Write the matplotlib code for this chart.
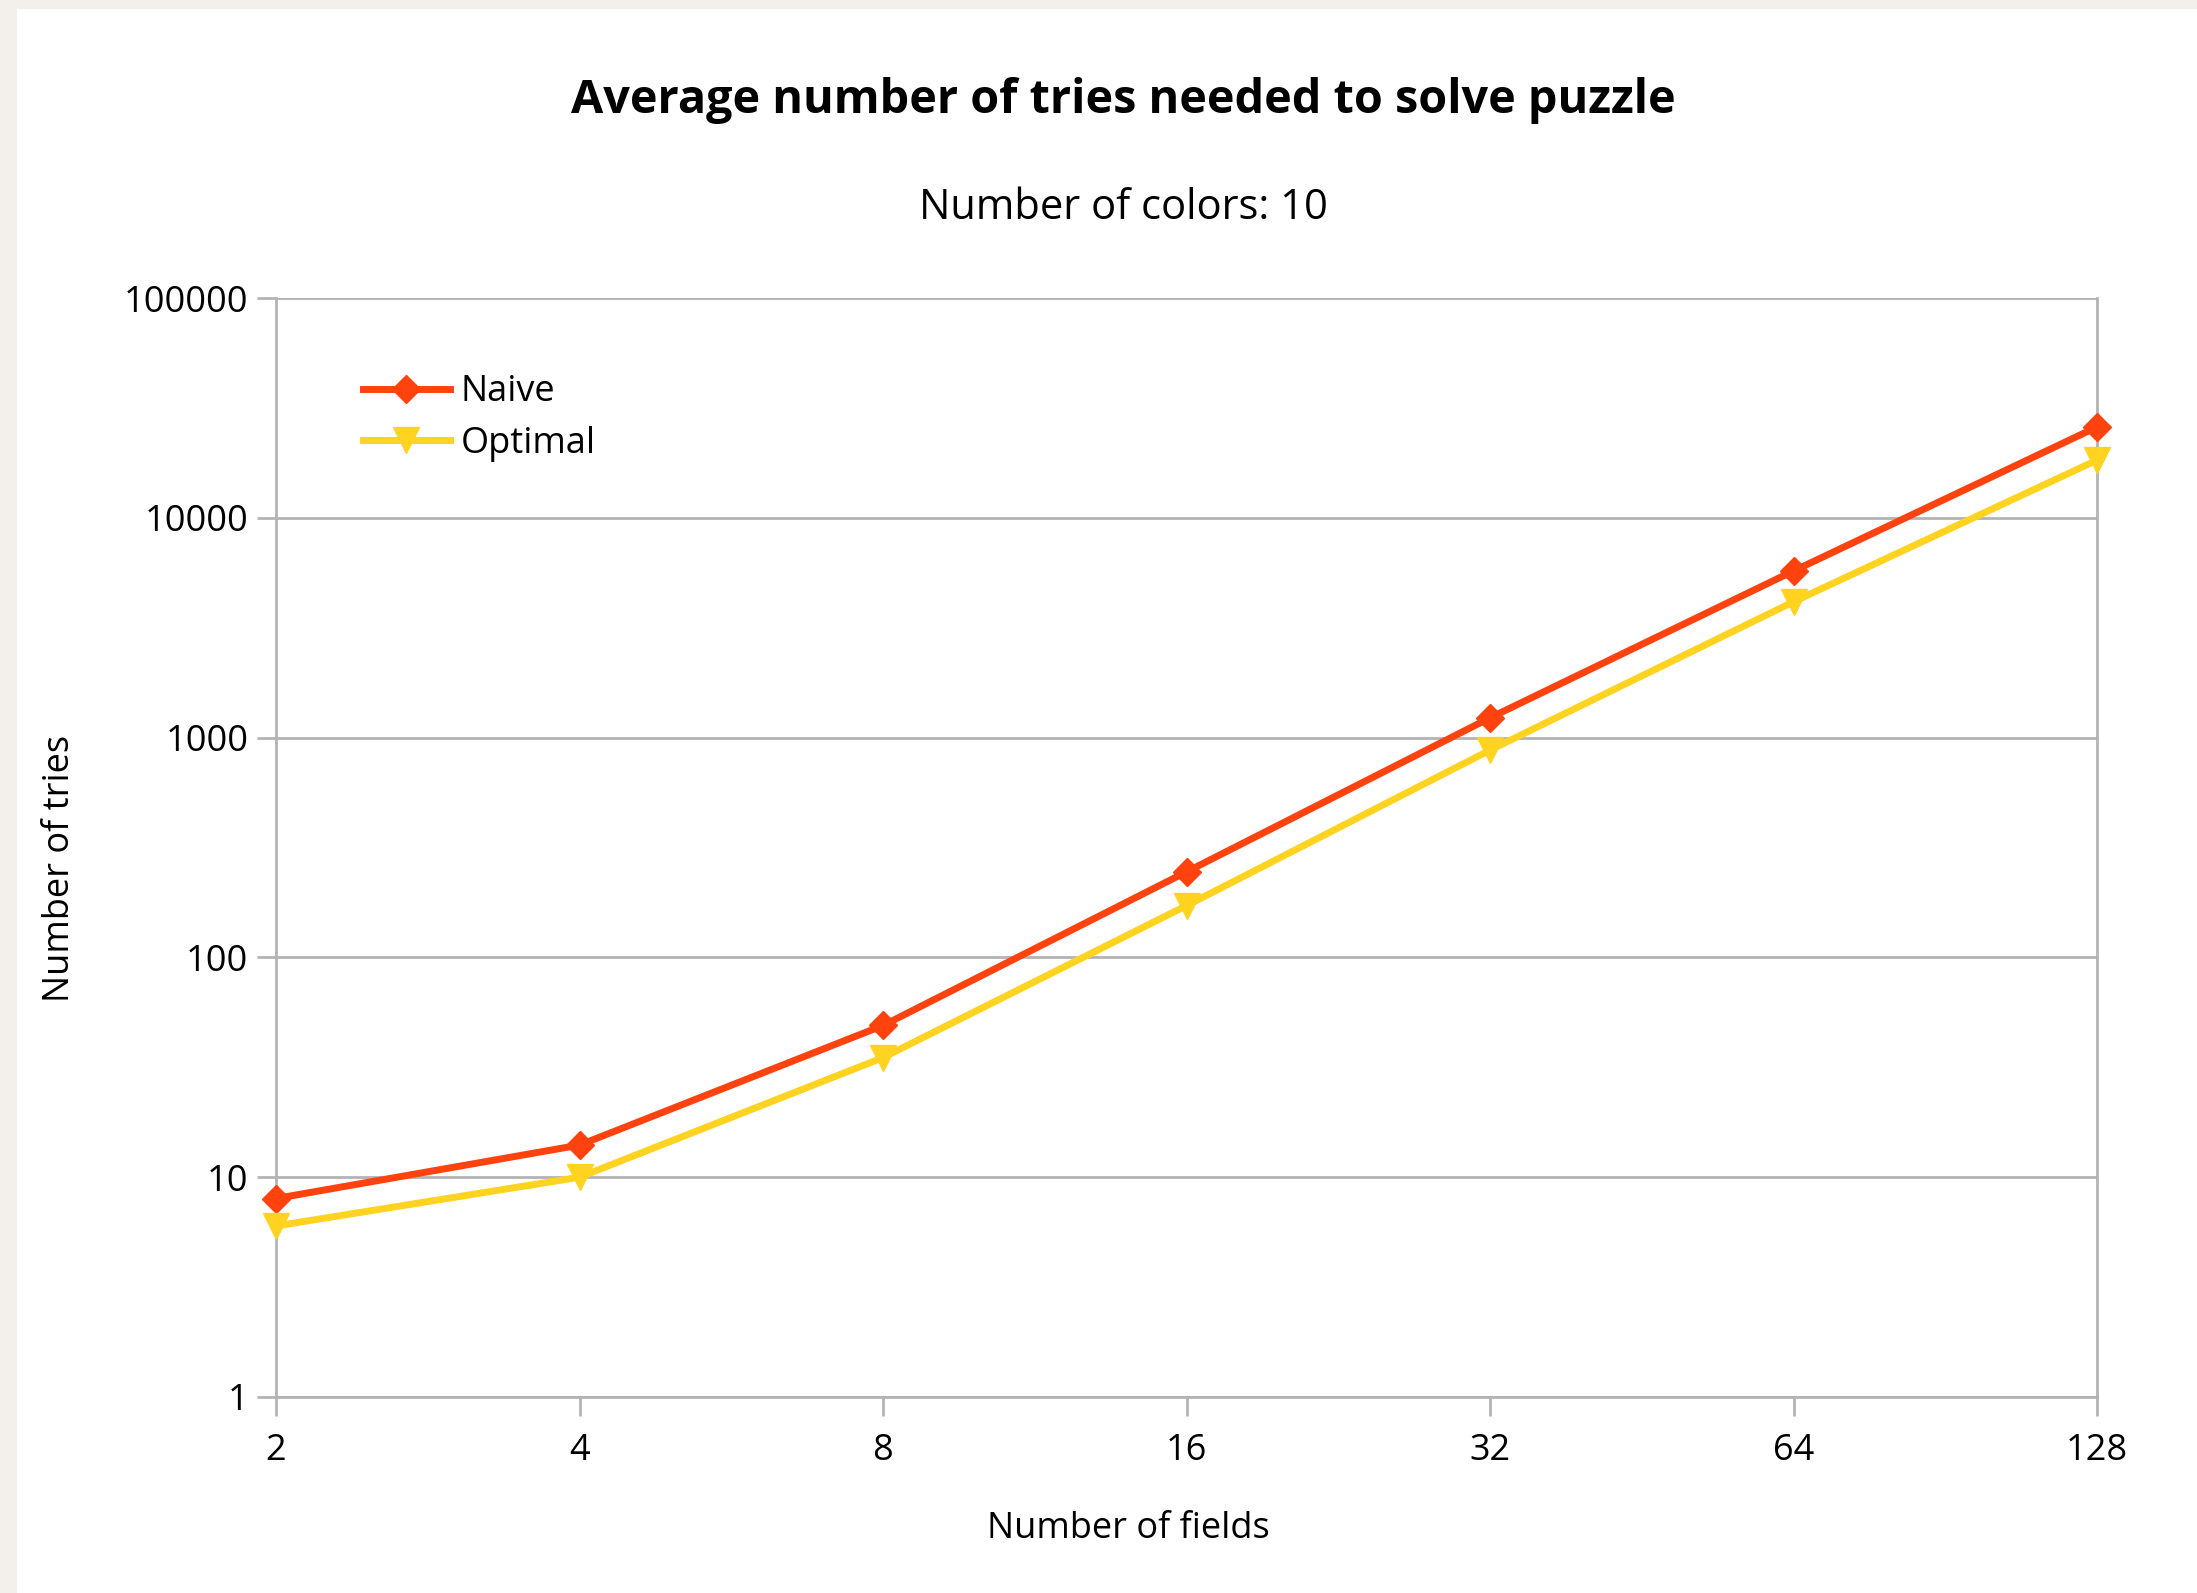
import numpy as np
import matplotlib
matplotlib.use("Agg")
import matplotlib.pyplot as plt
from matplotlib.patches import Rectangle

plt.rcParams['font.family'] = ['Open Sans', 'DejaVu Sans']

fields = [2, 4, 8, 16, 32, 64, 128]
naive = [8, 14, 49, 245, 1230, 5730, 25900]
optimal = [6, 10, 35, 172, 877, 4150, 18300]
yticks = [1, 10, 100, 1000, 10000, 100000]

grey = '#b3b3b3'

fig = plt.figure(figsize=(21.97, 15.93), dpi=100)
fig.patch.set_facecolor('#f3efeb')
# white panel behind everything
fig.patches.append(Rectangle((17/2197, 0), 1, 1 - 9/1593, transform=fig.transFigure,
                             facecolor='white', edgecolor='none', zorder=-10))

ax = fig.add_axes([276/2197, 1 - 1397/1593, (2097-276)/2197, (1397-298)/1593])
ax.set_facecolor('white')
ax.set_xscale('log', base=2)
ax.set_yscale('log')
ax.set_xlim(2, 128)
ax.set_ylim(1, 100000)

ax.plot(fields, naive, color='#ff420e', lw=5, marker='D', ms=14.5, label='Naive',
        clip_on=False, zorder=3)
ax.plot(fields, optimal, color='#ffd320', lw=5, marker='v', ms=19, label='Optimal',
        clip_on=False, zorder=3)

ax.set_xticks(fields)
ax.set_xticklabels([str(f) for f in fields])
ax.set_yticks(yticks)
ax.set_yticklabels([str(v) for v in yticks])
ax.minorticks_off()
ax.yaxis.grid(True, color=grey, lw=2)
ax.set_axisbelow(True)
for s in ax.spines.values():
    s.set_color(grey)
    s.set_linewidth(2)
ax.spines['top'].set_visible(False)
ax.tick_params(axis='both', colors=grey, length=14, width=2, labelcolor='black',
               labelsize=26)
ax.tick_params(axis='x', pad=12)
ax.tick_params(axis='y', pad=6)

ax.set_xlabel('Number of fields', fontsize=26)
ax.set_ylabel('Number of tries', fontsize=26)
ax.xaxis.set_label_coords(0.468, -0.104)
ax.yaxis.set_label_coords(-0.109, 0.481)

cx = 802 / 1568
fig.text(cx, 1 - 100/1593, 'Average number of tries needed to solve puzzle',
         ha='center', va='center', fontsize=33.7, fontweight='bold')
fig.text(cx, 1 - 208/1593, 'Number of colors: 10', ha='center', va='center',
         fontsize=30)

leg = ax.legend(loc='upper left', bbox_to_anchor=(0.03, 0.96), frameon=False,
                fontsize=26, handlelength=2.4, handletextpad=0.3, labelspacing=0.42)

fig.savefig('out.png', dpi=100, facecolor=fig.get_facecolor())
